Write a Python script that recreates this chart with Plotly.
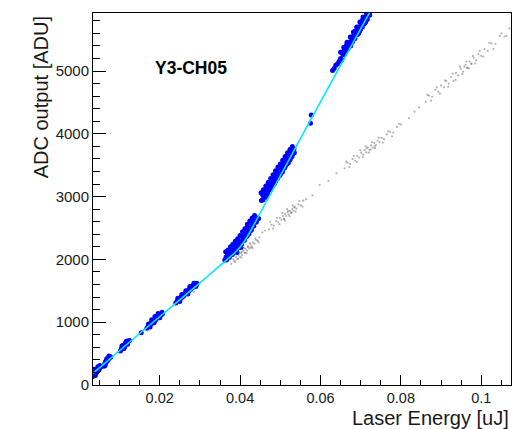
import plotly.graph_objects as go

# ---------------- data ----------------
# blue: selected events (Laser Energy [uJ], ADC [ADU])
blue_x = [
    # ~0.004
    0.0033, 0.0035, 0.0036, 0.0038, 0.0039, 0.0041, 0.0042, 0.0044, 0.0045, 0.0047, 0.0048, 0.0050, 0.0052, 0.0054, 0.0037, 0.0043, 0.0049,
    0.0036, 0.0046, 0.0040, 0.0051,
    # ~0.007
    0.0061, 0.0063, 0.0064, 0.0066, 0.0067, 0.0069, 0.0070, 0.0072, 0.0073, 0.0075, 0.0076, 0.0078, 0.0065, 0.0071,
    0.0068, 0.0074, 0.0064,
    # ~0.011
    0.0102, 0.0104, 0.0105, 0.0107, 0.0109, 0.0110, 0.0112, 0.0114, 0.0115, 0.0117, 0.0119, 0.0121, 0.0123, 0.0125, 0.0108, 0.0113, 0.0118,
    0.0106, 0.0116, 0.0111, 0.0120,
    # ~0.019
    0.0154, 0.0168, 0.0171, 0.0173, 0.0175, 0.0177, 0.0179, 0.0181, 0.0183, 0.0185, 0.0187, 0.0189, 0.0191, 0.0193, 0.0195, 0.0197, 0.0199, 0.0201, 0.0203, 0.0205, 0.0207,
    0.0172, 0.0180, 0.0188, 0.0196, 0.0176, 0.0186, 0.0200, 0.0206,
    # ~0.027
    0.0240, 0.0243, 0.0245, 0.0247, 0.0249, 0.0251, 0.0253, 0.0255, 0.0257, 0.0259, 0.0261, 0.0263, 0.0265, 0.0267, 0.0269, 0.0271, 0.0273, 0.0275, 0.0277, 0.0279, 0.0281, 0.0283, 0.0285, 0.0287, 0.0289, 0.0291, 0.0293,
    0.0245, 0.0255, 0.0265, 0.0275, 0.0285, 0.0250, 0.0270, 0.0290,
    # ~0.040
    0.0362, 0.0365, 0.0368, 0.0371, 0.0374, 0.0377, 0.0380, 0.0383, 0.0386, 0.0389, 0.0392, 0.0395, 0.0398, 0.0401, 0.0404, 0.0407, 0.0410, 0.0413, 0.0416, 0.0419, 0.0422, 0.0425, 0.0428, 0.0431, 0.0434, 0.0437, 0.0440, 0.0443, 0.0446,
    0.0375, 0.0385, 0.0395, 0.0405, 0.0392, 0.0402, 0.0418, 0.0428, 0.0368,
    0.0364, 0.0370, 0.0376, 0.0382, 0.0388, 0.0394, 0.0400, 0.0406, 0.0412, 0.0418, 0.0424, 0.0430, 0.0436,
    0.0366, 0.0373, 0.0381, 0.0388, 0.0396, 0.0403, 0.0411, 0.0418, 0.0426, 0.0433, 0.0441,
    # ~0.050
    0.0453, 0.0456, 0.0459, 0.0462, 0.0465, 0.0468, 0.0471, 0.0474, 0.0477, 0.0480, 0.0483, 0.0486, 0.0489, 0.0492, 0.0495, 0.0498, 0.0501, 0.0504, 0.0507, 0.0510, 0.0513, 0.0516, 0.0519, 0.0522, 0.0525, 0.0528, 0.0531, 0.0534,
    0.0460, 0.0470, 0.0480, 0.0490, 0.0500, 0.0510, 0.0466, 0.0485, 0.0505, 0.0520,
    0.0452, 0.0458, 0.0464, 0.0470, 0.0476, 0.0482, 0.0488, 0.0494, 0.0500, 0.0506, 0.0512, 0.0518, 0.0524, 0.0530,
    0.0457, 0.0463, 0.0469, 0.0475, 0.0481, 0.0487, 0.0493, 0.0499, 0.0505, 0.0511, 0.0517, 0.0523, 0.0529, 0.0535,
    0.0577, 0.0575,
    # ~0.068
    0.0630, 0.0634, 0.0638, 0.0642, 0.0646, 0.0650, 0.0653,
    0.0656, 0.0659, 0.0662, 0.0665, 0.0668, 0.0671, 0.0674, 0.0677, 0.0680, 0.0683, 0.0686, 0.0689, 0.0692, 0.0695, 0.0698, 0.0701, 0.0704, 0.0707, 0.0710, 0.0713, 0.0716, 0.0719, 0.0722,
    0.0665, 0.0675, 0.0685, 0.0695, 0.0705, 0.0712,
    0.0650, 0.0658, 0.0666, 0.0674, 0.0682, 0.0690, 0.0698, 0.0706, 0.0714,
    0.0660, 0.0668, 0.0676, 0.0684, 0.0692, 0.0700, 0.0708, 0.0716, 0.0722,
]
blue_y = [
    130, 175, 160, 200, 185, 230, 210, 250, 235, 270, 255, 290, 280, 300, 215, 200, 240,
    250, 290, 150, 310,
    300, 320, 345, 350, 380, 385, 410, 415, 440, 430, 455, 445, 370, 395,
    420, 460, 310,
    540, 560, 585, 590, 615, 600, 635, 640, 665, 655, 680, 685, 700, 710, 630, 610, 700,
    620, 690, 580, 650,
    833, 905, 930, 950, 945, 980, 970, 1010, 995, 1035, 1020, 1060, 1045, 1085, 1070, 1105, 1090, 1125, 1110, 1140, 1130,
    970, 1040, 1090, 1140, 925, 990, 1070, 1160,
    1305, 1330, 1350, 1345, 1380, 1370, 1400, 1395, 1430, 1415, 1440, 1460, 1450, 1490, 1475, 1510, 1500, 1540, 1525, 1560, 1545, 1585, 1570, 1600, 1595, 1620, 1615,
    1380, 1440, 1500, 1570, 1620, 1330, 1450, 1570,
    1990, 2040, 2010, 2075, 2050, 2110, 2090, 2150, 2120, 2190, 2160, 2230, 2200, 2280, 2250, 2340, 2300, 2400, 2360, 2450, 2410, 2500, 2470, 2560, 2530, 2610, 2590, 2660, 2650,
    2160, 2230, 2300, 2370, 2110, 2190, 2520, 2600, 2100,
    2120, 2150, 2200, 2240, 2290, 2330, 2380, 2440, 2490, 2560, 2610, 2660, 2700,
    1990, 2030, 2080, 2130, 2190, 2240, 2310, 2380, 2460, 2540, 2620,
    2940, 3030, 3000, 3090, 3040, 3150, 3100, 3210, 3150, 3270, 3210, 3330, 3260, 3390, 3320, 3450, 3370, 3500, 3430, 3560, 3490, 3610, 3550, 3670, 3600, 3720, 3680, 3760,
    3100, 3200, 3290, 3380, 3480, 3580, 3020, 3200, 3390, 3540,
    3060, 3110, 3170, 3230, 3290, 3350, 3410, 3470, 3520, 3580, 3640, 3700, 3750, 3800,
    2950, 2990, 3050, 3110, 3170, 3230, 3290, 3340, 3400, 3460, 3520, 3580, 3640, 3700,
    4300, 4170,
    5010, 5040, 5090, 5110, 5150, 5200, 5180,
    5260, 5340, 5310, 5400, 5360, 5460, 5410, 5520, 5470, 5580, 5520, 5640, 5580, 5700, 5640, 5760, 5700, 5810, 5760, 5870, 5820, 5930, 5900,
    5420, 5400, 5630, 5600, 5820, 5780,
    5300, 5380, 5460, 5540, 5620, 5700, 5780, 5860, 5930,
    5270, 5350, 5430, 5510, 5590, 5670, 5750, 5830, 5890,
]

# grey: other events
grey_x = [
    0.0275, 0.0280, 0.0285, 0.0288, 0.0292, 0.0296, 0.0360,
    0.0378, 0.0383, 0.0386, 0.0390, 0.0393, 0.0396, 0.0399, 0.0402, 0.0405, 0.0408, 0.0411, 0.0414, 0.0417, 0.0420, 0.0423, 0.0426, 0.0429, 0.0432, 0.0436, 0.0440, 0.0444, 0.0448,
    0.0395, 0.0404, 0.0412, 0.0419, 0.0427,
    0.0381, 0.0388, 0.0397, 0.0403, 0.0410, 0.0416, 0.0424, 0.0431, 0.0438, 0.0446,
    0.0455, 0.0462,
    0.0472, 0.0478, 0.0484, 0.0490, 0.0495, 0.0499, 0.0503, 0.0506, 0.0509, 0.0512, 0.0515, 0.0518, 0.0521, 0.0524, 0.0527, 0.0530, 0.0533, 0.0536, 0.0540, 0.0545, 0.0551, 0.0557, 0.0564,
    0.0510, 0.0520, 0.0528, 0.0535,
    0.0475, 0.0482, 0.0492, 0.0498, 0.0505, 0.0511, 0.0517, 0.0523, 0.0531, 0.0538, 0.0547, 0.0555,
    0.0580, 0.0598, 0.0620, 0.0640,
    0.0660, 0.0667, 0.0674, 0.0680, 0.0686, 0.0691, 0.0696, 0.0701, 0.0706, 0.0710, 0.0714, 0.0718, 0.0722, 0.0726, 0.0730, 0.0734, 0.0738, 0.0742, 0.0747, 0.0752, 0.0758, 0.0765, 0.0773, 0.0781, 0.0790, 0.0800,
    0.0715, 0.0725, 0.0735,
    0.0664, 0.0672, 0.0683, 0.0690, 0.0699, 0.0705, 0.0712, 0.0720, 0.0728, 0.0736, 0.0745, 0.0755, 0.0768, 0.0778, 0.0795,
    0.0820, 0.0834, 0.0845,
    0.0862, 0.0870, 0.0878, 0.0886, 0.0893, 0.0900, 0.0907, 0.0913, 0.0919, 0.0925, 0.0931, 0.0937, 0.0943, 0.0949, 0.0955, 0.0961, 0.0966, 0.0971, 0.0976, 0.0981, 0.0987, 0.0993, 0.1000, 0.1008, 0.1016, 0.1025, 0.1035, 0.1046, 0.1058, 0.1070,
    0.0958, 0.0964, 0.0975,
    0.0866, 0.0875, 0.0889, 0.0897, 0.0910, 0.0918, 0.0929, 0.0936, 0.0947, 0.0953, 0.0963, 0.0969, 0.0979, 0.0985, 0.0996, 0.1005, 0.1020, 0.1030, 0.1050, 0.1063,
]
grey_y = [
    1470, 1500, 1480, 1540, 1560, 1580, 1950,
    1930, 2000, 1975, 2040, 2010, 2075, 2045, 2100, 2070, 2140, 2105, 2170, 2140, 2205, 2175, 2240, 2205, 2270, 2250, 2310, 2295, 2350,
    2010, 2120, 2110, 2200, 2190,
    2060, 1960, 2110, 2030, 2180, 2100, 2260, 2180, 2330, 2270,
    2430, 2460,
    2480, 2550, 2540, 2610, 2590, 2660, 2630, 2690, 2650, 2720, 2690, 2750, 2715, 2775, 2745, 2805, 2775, 2835, 2810, 2875, 2860, 2935, 2960,
    2640, 2770, 2740, 2830,
    2600, 2490, 2660, 2560, 2740, 2620, 2800, 2690, 2860, 2760, 2930, 2840,
    3020, 3185, 3250, 3371,
    3450, 3540, 3520, 3600, 3575, 3650, 3620, 3700, 3670, 3740, 3705, 3780, 3745, 3815, 3780, 3855, 3820, 3890, 3865, 3935, 3915, 3990, 4030, 4020, 4110, 4150,
    3770, 3750, 3800,
    3560, 3470, 3650, 3550, 3740, 3630, 3800, 3700, 3870, 3770, 3940, 3860, 4040, 3960, 4160,
    4250, 4352, 4420,
    4510, 4610, 4590, 4700, 4670, 4770, 4740, 4840, 4800, 4905, 4840, 4970, 4930, 5035, 4990, 5100, 5055, 5150, 5110, 5210, 5170, 5270, 5240, 5350, 5320, 5440, 5430, 5560, 5550, 5680,
    5070, 5050, 5120,
    4620, 4530, 4740, 4640, 4850, 4750, 4960, 4860, 5070, 4950, 5150, 5040, 5240, 5120, 5320, 5230, 5450, 5350, 5600, 5560,
]

# cyan fit curve
fit_x = [0.0034, 0.015, 0.030, 0.0337, 0.0390, 0.0410, 0.0430, 0.0450, 0.0500, 0.0600, 0.0723]
fit_y = [186, 820, 1625, 1830, 2125, 2280, 2500, 2740, 3330, 4510, 5940]

x_tickvals = [0.02, 0.04, 0.06, 0.08, 0.1]
x_ticktext = ["0.02", "0.04", "0.06", "0.08", "0.1"]
y_tickvals = [0, 1000, 2000, 3000, 4000, 5000]
y_ticktext = ["0", "1000", "2000", "3000", "4000", "5000"]

FONT = "Liberation Sans, Arial, Helvetica, sans-serif"
TXT = "#1a1a1a"

fig = go.Figure()
fig.add_trace(go.Scatter(
    x=grey_x, y=grey_y, mode="markers",
    marker=dict(size=2.2, color="rgba(60,60,60,0.38)", line=dict(width=0)),
    hoverinfo="skip", showlegend=False))
fig.add_trace(go.Scatter(
    x=blue_x, y=blue_y, mode="markers",
    marker=dict(size=5, color="#0000ff", line=dict(width=0)),
    hoverinfo="skip", showlegend=False))
fig.add_trace(go.Scatter(
    x=fit_x, y=fit_y, mode="lines",
    line=dict(color="#00e8ff", width=1.6, shape="spline", smoothing=0.5),
    hoverinfo="skip", showlegend=False))

fig.update_layout(
    width=513, height=429,
    margin=dict(l=93, r=2, t=13, b=44),
    paper_bgcolor="white", plot_bgcolor="white",
    font=dict(family=FONT, color=TXT),
    xaxis=dict(
        range=[0.0034, 0.1074], showgrid=False, zeroline=False,
        showline=True, linecolor="black", linewidth=1, mirror=True,
        ticks="inside", ticklen=10, tickwidth=1, tickcolor="black",
        tickvals=x_tickvals, ticktext=x_ticktext,
        tickfont=dict(size=14.5, family=FONT, color=TXT),
        minor=dict(ticks="inside", ticklen=5, dtick=0.005, tick0=0, tickcolor="black", showgrid=False),
    ),
    yaxis=dict(
        range=[0, 5924], showgrid=False, zeroline=False,
        showline=True, linecolor="black", linewidth=1, mirror=True,
        ticks="inside", ticklen=13, tickwidth=1, tickcolor="black",
        tickvals=y_tickvals, ticktext=y_ticktext,
        tickfont=dict(size=15, family=FONT, color=TXT),
        minor=dict(ticks="inside", ticklen=6.5, dtick=200, tick0=0, tickcolor="black", showgrid=False),
    ),
    annotations=[
        dict(text="Laser Energy [uJ]", xref="paper", yref="paper", x=1.0, y=-0.0895,
             xanchor="right", yanchor="middle", showarrow=False,
             font=dict(size=20, family=FONT, color=TXT)),
        dict(text="ADC output [ADU]", xref="paper", yref="paper", x=-0.124, y=0.997,
             xanchor="center", yanchor="top", textangle=-90, showarrow=False,
             font=dict(size=20, family=FONT, color=TXT)),
        dict(text="<b>Y3-CH05</b>", xref="paper", yref="paper", x=0.144, y=0.851,
             xanchor="left", yanchor="middle", showarrow=False,
             font=dict(size=17.5, family=FONT, color="black")),
    ],
)

fig.write_html("out.html")
